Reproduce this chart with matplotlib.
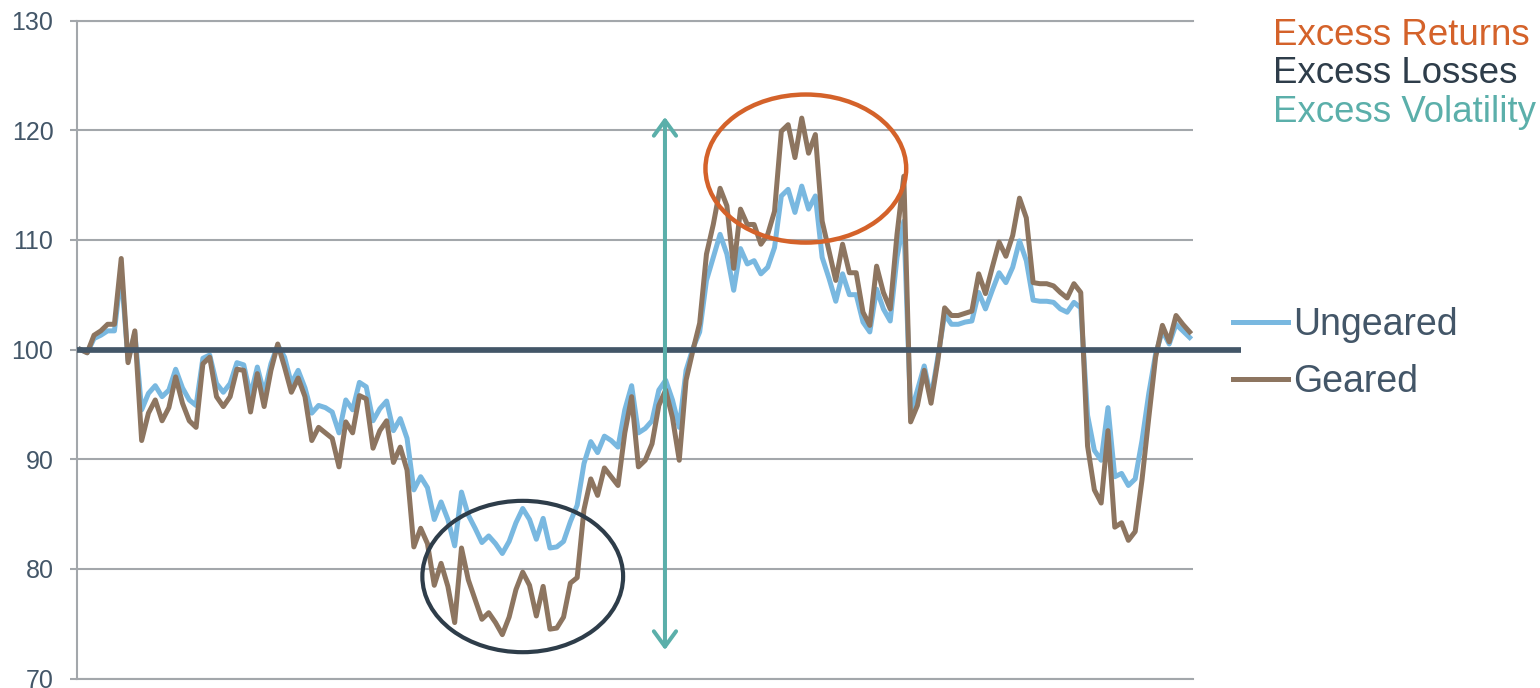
"""
Geared vs ungeared index, rebased to 100.
Saves out.png (1540x688).
"""

import matplotlib
matplotlib.use("Agg")
import matplotlib.pyplot as plt
from matplotlib.patches import Ellipse

plt.rcParams["font.family"] = ["Liberation Sans", "DejaVu Sans"]

# --------------------------------------------------
# Data (one value per month)
# --------------------------------------------------
ungeared = [
    100.0, 99.7, 101.0, 101.3, 101.7, 101.7, 107.0, 99.0, 101.5, 94.5,
    96.0, 96.7, 95.7, 96.3, 98.2, 96.5, 95.4, 94.9, 99.2, 99.5,
    96.9, 96.1, 96.9, 98.8, 98.6, 95.8, 98.4, 96.0, 98.7, 100.4,
    99.3, 96.9, 98.1, 96.5, 94.2, 94.9, 94.7, 94.3, 92.4, 95.4,
    94.5, 97.0, 96.6, 93.5, 94.6, 95.3, 92.6, 93.7, 91.9, 87.2,
    88.4, 87.4, 84.5, 86.1, 84.5, 82.1, 87.0, 84.9, 83.7, 82.4,
    83.0, 82.3, 81.4, 82.5, 84.2, 85.5, 84.5, 82.7, 84.6, 81.9,
    82.0, 82.5, 84.3, 85.8, 89.6, 91.6, 90.6, 92.1, 91.7, 91.1,
    94.5, 96.7, 92.4, 92.8, 93.5, 96.3, 97.2, 95.4, 92.9, 98.1,
    100.1, 101.6, 106.3, 108.4, 110.5, 108.7, 105.4, 109.2, 107.8, 108.1,
    106.9, 107.5, 109.3, 114.0, 114.6, 112.5, 114.9, 112.8, 114.0, 108.4,
    106.5, 104.4, 106.9, 105.0, 105.0, 102.5, 101.6, 105.5, 103.7, 102.6,
    108.4, 111.7, 94.2, 96.3, 98.5, 95.6, 99.3, 103.2, 102.3, 102.3,
    102.5, 102.6, 105.2, 103.7, 105.4, 107.0, 106.1, 107.5, 109.9, 108.1,
    104.5, 104.4, 104.4, 104.3, 103.7, 103.4, 104.3, 103.8, 94.0, 90.8,
    89.9, 94.7, 88.4, 88.7, 87.6, 88.2, 91.7, 96.0, 99.6, 101.7,
    100.5, 102.3, 101.7, 101.1,
]

geared = [
    100.0, 99.7, 101.3, 101.7, 102.3, 102.3, 108.3, 98.8, 101.7, 91.7,
    94.2, 95.4, 93.5, 94.7, 97.5, 95.1, 93.5, 92.9, 98.7, 99.3,
    95.7, 94.8, 95.7, 98.2, 98.1, 94.3, 97.8, 94.8, 98.1, 100.5,
    98.4, 96.1, 97.4, 95.7, 91.7, 92.9, 92.4, 91.9, 89.3, 93.4,
    92.4, 95.8, 95.5, 91.0, 92.6, 93.5, 89.7, 91.1, 89.0, 82.0,
    83.7, 82.3, 78.5, 80.5, 78.4, 75.1, 81.9, 79.0, 77.2, 75.4,
    76.0, 75.1, 74.0, 75.6, 78.1, 79.7, 78.5, 75.7, 78.4, 74.5,
    74.6, 75.6, 78.7, 79.2, 85.4, 88.2, 86.7, 89.2, 88.4, 87.6,
    92.4, 95.7, 89.3, 89.9, 91.4, 94.9, 96.3, 93.8, 89.9, 97.2,
    99.9, 102.4, 108.7, 111.4, 114.7, 113.1, 107.4, 112.8, 111.4, 111.4,
    109.6, 110.5, 112.6, 119.9, 120.5, 117.5, 121.1, 117.9, 119.6, 111.7,
    109.0, 106.3, 109.6, 107.0, 107.0, 103.4, 102.2, 107.6, 105.2, 103.7,
    110.5, 115.8, 93.4, 94.9, 98.1, 95.1, 99.0, 103.8, 103.1, 103.1,
    103.3, 103.5, 106.9, 105.1, 107.5, 109.8, 108.5, 110.4, 113.8, 112.0,
    106.1, 106.0, 106.0, 105.8, 105.2, 104.7, 106.0, 105.2, 91.2, 87.2,
    86.0, 92.6, 83.8, 84.2, 82.6, 83.4, 88.1, 93.8, 99.3, 102.2,
    100.7, 103.1, 102.3, 101.6,
]

series_names = ["Ungeared", "Geared"]
y_ticks = [70, 80, 90, 100, 110, 120, 130]
baseline = 100
callouts = ["Excess Returns", "Excess Losses", "Excess Volatility"]

# colours
BLUE = "#79B8E0"
BROWN = "#8D7560"
SLATE = "#435668"
GRID = "#A3A7AB"
ORANGE = "#D4622A"
DARK = "#2E3D4A"
TEAL = "#5BAFAA"


def main():
    fig = plt.figure(figsize=(15.4, 6.88), dpi=100)
    ax = fig.add_axes([0.05, 0.0138, 0.7247, 0.9564])

    n = len(geared)
    x = list(range(n))

    # --------------------------------------------------
    # Series
    # --------------------------------------------------
    ax.plot(x, ungeared, color=BLUE, lw=3.6, solid_joinstyle="round",
            label=series_names[0], zorder=3)
    ax.plot(x, geared, color=BROWN, lw=3.6, solid_joinstyle="round",
            label=series_names[1], zorder=4)

    # rebased line at 100, runs past the plot into the legend area
    ax.plot([-0.5, n + 6.6], [baseline, baseline], color=SLATE, lw=4.1,
            solid_capstyle="butt", clip_on=False, zorder=5)

    # --------------------------------------------------
    # Axes styling
    # --------------------------------------------------
    ax.set_xlim(-0.5, n - 0.5)
    ax.set_ylim(y_ticks[0], y_ticks[-1])
    ax.set_yticks(y_ticks)
    ax.set_xticks([])
    ax.yaxis.grid(True, color=GRID, lw=1.5)
    ax.set_axisbelow(True)
    for side in ["top", "bottom"]:
        ax.spines[side].set_color(GRID)
        ax.spines[side].set_linewidth(1.5)
    ax.spines["right"].set_visible(False)
    ax.spines["left"].set_color(GRID)
    ax.spines["left"].set_linewidth(1.5)
    ax.tick_params(axis="y", length=5, width=1.5, color=GRID, pad=12,
                   labelsize=18, labelcolor=SLATE)

    # --------------------------------------------------
    # Call-outs: circles and volatility arrow
    # --------------------------------------------------
    ax.add_patch(Ellipse((65.0, 79.3), 29.5, 13.8, fill=False,
                         edgecolor=DARK, lw=3.0, zorder=6, clip_on=False))
    ax.add_patch(Ellipse((106.6, 116.5), 29.5, 13.5, fill=False,
                         edgecolor=ORANGE, lw=3.2, zorder=6, clip_on=False))
    ax.annotate("", xy=(85.9, 121.2), xytext=(85.9, 72.6),
                arrowprops=dict(arrowstyle="<->,head_length=0.55,head_width=0.4",
                                color=TEAL, lw=2.9, shrinkA=0, shrinkB=0,
                                mutation_scale=20),
                zorder=7)

    # --------------------------------------------------
    # Legend and labels on the right
    # --------------------------------------------------
    fig.legend(loc="upper left", bbox_to_anchor=(0.8006, 0.554),
               bbox_transform=fig.transFigure, frameon=False, fontsize=27,
               handlelength=1.47, handletextpad=0.13, labelspacing=0.56,
               borderpad=0, borderaxespad=0, labelcolor=SLATE)

    for label, colour, yb in zip(callouts, [ORANGE, DARK, TEAL],
                                 [0.9346, 0.8794, 0.8227]):
        fig.text(0.8266, yb, label, color=colour, fontsize=26.4,
                 va="baseline", ha="left")

    fig.savefig("out.png", dpi=100)
    plt.close(fig)


if __name__ == "__main__":
    main()
